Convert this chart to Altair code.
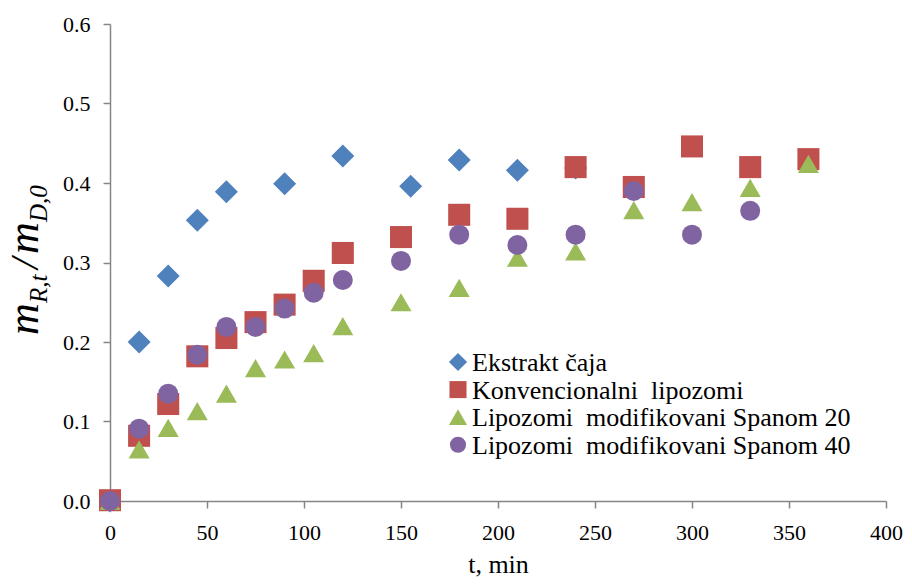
import altair as alt
import pandas as pd

# ---- data ----
series_names = [
    "Ekstrakt čaja",
    "Konvencionalni\u00a0 lipozomi",
    "Lipozomi\u00a0 modifikovani Spanom 20",
    "Lipozomi\u00a0 modifikovani Spanom 40",
]
series_colors = ["#4F81BD", "#C0504D", "#9BBB59", "#8064A2"]
series_shapes = ["diamond", "square", "triangle-up", "circle"]

t_ekstrakt = [0, 15, 30, 45, 60, 90, 120, 155, 180, 210, 240]
v_ekstrakt = [0.0, 0.200, 0.283, 0.353, 0.389, 0.399, 0.434, 0.396, 0.429, 0.416, 0.419]

t_konv = [0, 15, 30, 45, 60, 75, 90, 105, 120, 150, 180, 210, 240, 270, 300, 330, 360]
v_konv = [0.001, 0.082, 0.122, 0.182, 0.205, 0.225, 0.247, 0.277, 0.312, 0.332,
          0.360, 0.355, 0.420, 0.395, 0.446, 0.420, 0.430]

t_span20 = [0, 15, 30, 45, 60, 75, 90, 105, 120, 150, 180, 210, 240, 270, 300, 330, 360]
v_span20 = [0.0, 0.065, 0.092, 0.113, 0.135, 0.167, 0.178, 0.186, 0.220, 0.250,
            0.268, 0.306, 0.314, 0.366, 0.376, 0.394, 0.424]

t_span40 = [0, 15, 30, 45, 60, 75, 90, 105, 120, 150, 180, 210, 240, 270, 300, 330]
v_span40 = [0.0, 0.091, 0.135, 0.184, 0.219, 0.219, 0.242, 0.262, 0.278, 0.302,
            0.335, 0.322, 0.335, 0.390, 0.335, 0.365]

x_ticks = [0, 50, 100, 150, 200, 250, 300, 350, 400]
y_ticks = [0.0, 0.1, 0.2, 0.3, 0.4, 0.5, 0.6]

rows = []
for name, ts, vs in zip(series_names,
                        [t_ekstrakt, t_konv, t_span20, t_span40],
                        [v_ekstrakt, v_konv, v_span20, v_span40]):
    for t, v in zip(ts, vs):
        rows.append({"series": name, "t": t, "v": v})
df = pd.DataFrame(rows)

FONT = "Liberation Serif"
AXIS_GRAY = "#868686"
W, H = 776, 477

points = alt.Chart(df).mark_point(filled=True, opacity=1).encode(
    x=alt.X("t:Q", scale=alt.Scale(domain=[0, 400], nice=False),
            axis=alt.Axis(values=x_ticks, title="t, min", grid=False,
                          titleY=71, titleBaseline="alphabetic",
                          titleFontSize=26, titleFontWeight="normal",
                          labelPadding=14, labelFlush=False)),
    y=alt.Y("v:Q", scale=alt.Scale(domain=[0, 0.6], nice=False),
            axis=alt.Axis(values=y_ticks, format=".1f", title=None, grid=False,
                          labelPadding=13, labelFlush=False)),
    color=alt.Color("series:N", sort=series_names,
                    scale=alt.Scale(domain=series_names, range=series_colors),
                    legend=None),
    shape=alt.Shape("series:N", sort=series_names,
                    scale=alt.Scale(domain=series_names, range=series_shapes),
                    legend=None),
    size=alt.Size("series:N", sort=series_names,
                  scale=alt.Scale(domain=series_names, range=[529, 400, 600, 340]),
                  legend=None),
)

one = alt.Data(values=[{}])

# legend (Excel-style, inside the plot)
leg_sizes = [330, 290, 330, 260]
legend_layers = []
for i, (name, col, shp, sz) in enumerate(zip(series_names, series_colors, series_shapes, leg_sizes)):
    ry = 338 + 27.6 * i
    legend_layers.append(alt.Chart(one).mark_point(
        filled=True, opacity=1, shape=shp, color=col, size=sz
    ).encode(x=alt.value(348), y=alt.value(ry)))
    legend_layers.append(alt.Chart(one).mark_text(
        text=name, font=FONT, fontSize=26, color="black", align="left", baseline="middle"
    ).encode(x=alt.value(362), y=alt.value(ry + 1)))

# y-axis title m_{R,t}/m_{D,0} built from rotated pieces
def piece(txt, x, y, size):
    return alt.Chart(one).mark_text(
        text=txt, angle=270, align="left", baseline="alphabetic",
        font=FONT, fontStyle="italic", fontSize=size, color="black"
    ).encode(x=alt.value(x), y=alt.value(y))

title_layers = [
    piece("m", -72, 311, 44),
    piece("R,t", -63, 279, 25),
    piece("/", -72, 245, 40),
    piece("m", -72, 230, 44),
    piece("D,0", -63, 198, 25),
]

chart = alt.layer(points, *legend_layers, *title_layers).properties(
    width=W, height=H,
    autosize=alt.AutoSizeParams(type="none"),
    padding={"left": 102, "top": 16, "right": 18, "bottom": 76},
).configure_view(stroke=None).configure_axis(
    labelFont=FONT, titleFont=FONT, labelFontSize=22, labelColor="black",
    titleColor="black", domainColor=AXIS_GRAY, tickColor=AXIS_GRAY,
    domainWidth=1.5, tickWidth=1.5, tickSize=7,
)

chart.save("out.html", embed_options={"renderer": "svg", "actions": False})
